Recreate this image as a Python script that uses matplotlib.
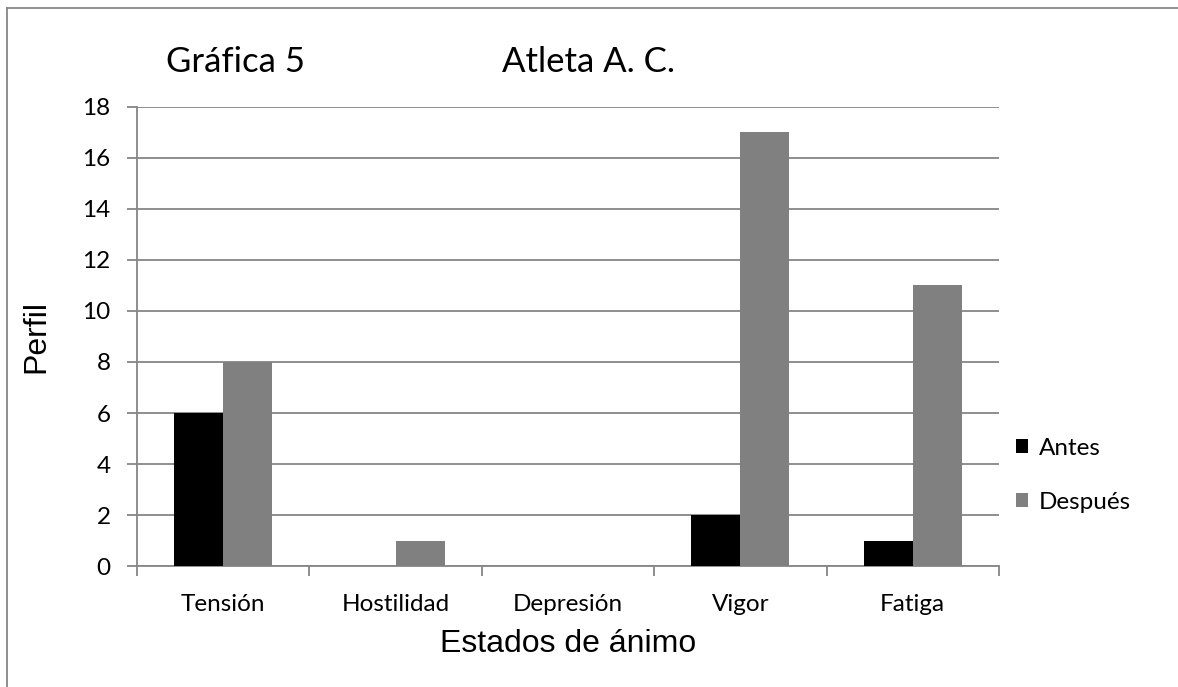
import numpy as np
import matplotlib
matplotlib.use('Agg')
import matplotlib.pyplot as plt
from matplotlib.lines import Line2D

categorias = ["Tensión", "Hostilidad", "Depresión", "Vigor", "Fatiga"]
antes = [6, 0, 0, 2, 1]
despues = [8, 1, 0, 17, 11]
yticks = [0, 2, 4, 6, 8, 10, 12, 14, 16, 18]

cal = "Lato"
arial = "Liberation Sans"
grey = "#868686"

fig = plt.figure(figsize=(11.78, 6.87), dpi=100)
ax = fig.add_axes([0.1163, 0.1761, 0.7317, 0.6682])

x = np.arange(len(categorias))
w = 0.285
ax.bar(x - w/2, antes, w, color="black", label="Antes", zorder=3)
ax.bar(x + w/2, despues, w, color="#808080", label="Después", zorder=3)

ax.set_xlim(-0.5, len(categorias) - 0.5)
ax.set_ylim(0, 18)
ax.set_yticks(yticks)
ax.set_yticklabels([str(v) for v in yticks], fontfamily=cal, fontsize=17.5)
ax.yaxis.grid(True, color=grey, linewidth=1.3, zorder=0)

ax.set_xticks(x)
ax.set_xticklabels(categorias, fontfamily=cal, fontsize=17.5)
ax.set_xticks(np.arange(-0.5, len(categorias)), minor=True)
ax.tick_params(axis="x", which="major", length=0, pad=20)
ax.tick_params(axis="x", which="minor", length=7, color=grey, width=1.3)
ax.tick_params(axis="y", length=7, color=grey, width=1.3, pad=12)

for s in ["top", "right"]:
    ax.spines[s].set_visible(False)
for s in ["left", "bottom"]:
    ax.spines[s].set_color(grey)
    ax.spines[s].set_linewidth(1.3)

ax.set_xlabel("Estados de ánimo", fontfamily=arial, fontsize=23, labelpad=10)
ax.set_ylabel("Perfil", fontfamily=arial, fontsize=23, labelpad=22)

fig.text(235/1178, 1 - 62/687, "Gráfica 5", fontfamily=cal, fontsize=25,
         ha="center", va="center")
fig.text(588/1178, 1 - 62/687, "Atleta A. C.", fontfamily=cal, fontsize=25,
         ha="center", va="center")

leg = fig.legend(loc="upper left", bbox_to_anchor=(994/1178, 1 - 416/687),
                 frameon=False, prop={"family": cal, "size": 17.5},
                 handlelength=0.5, handleheight=0.5, handletextpad=0.45,
                 labelspacing=1.35)

# frame lines of the chart area
fig.add_artist(Line2D([7/1178, 1], [1 - 8/687, 1 - 8/687], color=grey, linewidth=1.3))
fig.add_artist(Line2D([7/1178, 7/1178], [0, 1 - 8/687], color=grey, linewidth=1.3))

fig.savefig("out.png", dpi=100)
